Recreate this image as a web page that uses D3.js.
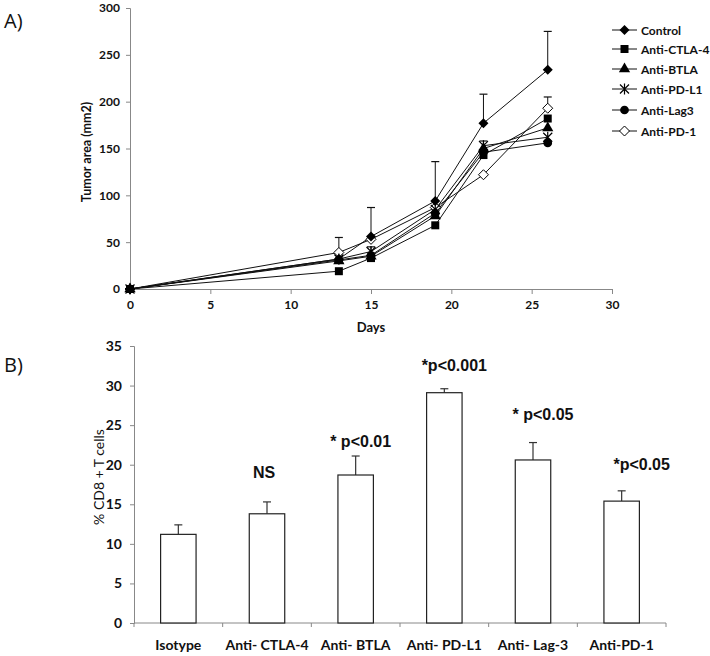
<!DOCTYPE html>
<html><head><meta charset="utf-8">
<script src="https://cdn.jsdelivr.net/npm/d3@7"></script>
<style>body{margin:0;background:#fff}svg{display:block}</style>
</head><body>
<svg id="c" width="710" height="656"></svg>
<script>
// ---- Panel A data ----
const days = [0, 13, 15, 19, 22, 26];
const seriesNames = ["Control", "Anti-CTLA-4", "Anti-BTLA", "Anti-PD-L1", "Anti-Lag3", "Anti-PD-1"];
const markerTypes = ["diamond", "square", "triangle", "star", "circle", "openDiamond"];
const control = [0, 32, 56, 94, 177, 234];
const antiCTLA4 = [0, 19, 33, 68, 143, 182];
const antiBTLA = [0, 30, 35, 78, 150, 172];
const antiPDL1 = [0, 32, 40, 85, 153, 162];
const antiLag3 = [0, 31, 36, 81, 146, 156];
const antiPD1 = [0, 39, 53, 87, 122, 193];
const errControl = [0, 23, 31, 42, 31, 41];
const errCTLA4 = [0, 0, 0, 0, 0, 0];
const errBTLA = [0, 0, 0, 0, 0, 0];
const errPDL1 = [0, 0, 5, 0, 5, 0];
const errLag3 = [0, 0, 0, 0, 0, 0];
const errPD1 = [0, 0, 0, 0, 0, 12];
const xTicksA = [0, 5, 10, 15, 20, 25, 30];
const yTicksA = [0, 50, 100, 150, 200, 250, 300];

// ---- Panel B data ----
const categories = ["Isotype", "Anti- CTLA-4", "Anti- BTLA", "Anti- PD-L1", "Anti- Lag-3", "Anti-PD-1"];
const cd8Values = [11.2, 13.8, 18.7, 29.1, 20.6, 15.4];
const cd8Errors = [1.2, 1.5, 2.4, 0.5, 2.2, 1.3];
const annotations = ["", "NS", "* p<0.01", "*p<0.001", "* p<0.05", "*p<0.05"];
const yTicksB = [0, 5, 10, 15, 20, 25, 30, 35];

const allSeries = [control, antiCTLA4, antiBTLA, antiPDL1, antiLag3, antiPD1];
const allErr = [errControl, errCTLA4, errBTLA, errPDL1, errLag3, errPD1];

const svg = d3.select("#c");
const FONT = "Lato, 'Open Sans', sans-serif";
const AX = "#888";

// ===== Panel A =====
const xA = d3.scaleLinear().domain([0, 30]).range([130, 612]);
const yA = d3.scaleLinear().domain([0, 300]).range([289, 8]);

const gA = svg.append("g");
const xAxisA = gA.append("g").attr("transform", `translate(0,${yA(0)})`)
  .call(d3.axisBottom(xA).tickValues(xTicksA).tickSize(5).tickPadding(6).tickFormat(d3.format("d")));
const yAxisA = gA.append("g").attr("transform", `translate(${xA(0)},0)`)
  .call(d3.axisLeft(yA).tickValues(yTicksA).tickSize(4).tickPadding(6).tickFormat(d3.format("d")));
[xAxisA, yAxisA].forEach(a => {
  a.selectAll("path,line").attr("stroke", AX);
  a.selectAll("text").attr("font-family", FONT).attr("font-weight", "bold").attr("font-size", 12).attr("fill", "#111");
});

allSeries.forEach((s, i) => {
  s.forEach((v, j) => {
    const e = allErr[i][j];
    if (e > 0) {
      const x = xA(days[j]);
      gA.append("line").attr("x1", x).attr("x2", x).attr("y1", yA(v)).attr("y2", yA(v + e)).attr("stroke", "#111").attr("stroke-width", 1);
      gA.append("line").attr("x1", x - 4).attr("x2", x + 4).attr("y1", yA(v + e)).attr("y2", yA(v + e)).attr("stroke", "#111").attr("stroke-width", 1.2);
    }
  });
});

const line = d3.line().x((d, j) => xA(days[j])).y(d => yA(d));
allSeries.forEach(s => {
  gA.append("path").attr("d", line(s)).attr("fill", "none").attr("stroke", "#111").attr("stroke-width", 1);
});

function drawMarker(g, type, x, y) {
  if (type === "diamond") {
    g.append("path").attr("d", "M0,-5L5,0L0,5L-5,0Z").attr("transform", `translate(${x},${y})`).attr("fill", "#000");
  } else if (type === "openDiamond") {
    g.append("path").attr("d", "M0,-5L5,0L0,5L-5,0Z").attr("transform", `translate(${x},${y})`).attr("fill", "#fff").attr("stroke", "#000").attr("stroke-width", 1);
  } else if (type === "square") {
    g.append("path").attr("d", d3.symbol(d3.symbolSquare, 64)()).attr("transform", `translate(${x},${y})`).attr("fill", "#000");
  } else if (type === "triangle") {
    g.append("path").attr("d", d3.symbol(d3.symbolTriangle, 55)()).attr("transform", `translate(${x},${y})`).attr("fill", "#000");
  } else if (type === "circle") {
    g.append("path").attr("d", d3.symbol(d3.symbolCircle, 60)()).attr("transform", `translate(${x},${y})`).attr("fill", "#000");
  } else if (type === "star") {
    const r = 4.5;
    const p = `M${-r},${-r}L${r},${r}M${-r},${r}L${r},${-r}M0,${-r - 1}L0,${r + 1}`;
    g.append("path").attr("d", p).attr("transform", `translate(${x},${y})`).attr("fill", "none").attr("stroke", "#000").attr("stroke-width", 1.2);
  }
}

// draw order: open diamonds first, so filled markers sit on top
const drawOrder = [5, 0, 2, 3, 4, 1];
drawOrder.forEach(i => {
  allSeries[i].forEach((v, j) => drawMarker(gA, markerTypes[i], xA(days[j]), yA(v)));
});

const legY = [30, 49, 69, 89, 110, 131];
seriesNames.forEach((n, i) => {
  const y = legY[i];
  gA.append("line").attr("x1", 612).attr("x2", 637).attr("y1", y).attr("y2", y).attr("stroke", "#111").attr("stroke-width", 1);
  drawMarker(gA, markerTypes[i], 624.5, y);
  gA.append("text").attr("x", 641).attr("y", y + 4.5).text(n)
    .attr("font-family", FONT).attr("font-weight", "bold").attr("font-size", 12).attr("fill", "#111");
});

gA.append("text").attr("x", 371).attr("y", 332).attr("text-anchor", "middle").text("Days")
  .attr("font-family", FONT).attr("font-weight", "bold").attr("font-size", 13).attr("fill", "#111");
gA.append("text").attr("transform", "translate(91,152) rotate(-90)").attr("text-anchor", "middle").text("Tumor area (mm2)")
  .attr("font-family", FONT).attr("font-weight", "bold").attr("font-size", 12.5).attr("fill", "#111");
svg.append("text").attr("x", 4).attr("y", 28).text("A)").attr("font-family", "'Open Sans', sans-serif").attr("font-size", 20).attr("fill", "#111");

// ===== Panel B =====
const xB = d3.scaleBand().domain(categories).range([134, 666]).paddingInner(0.6).paddingOuter(0.3);
const yB = d3.scaleLinear().domain([0, 35]).range([623, 346]);
const gB = svg.append("g");

const yAxisB = gB.append("g").attr("transform", `translate(134,0)`)
  .call(d3.axisLeft(yB).tickValues(yTicksB).tickSize(4).tickPadding(8).tickFormat(d3.format("d")));
yAxisB.selectAll("path,line").attr("stroke", AX);
yAxisB.selectAll("text").attr("font-family", FONT).attr("font-weight", "bold").attr("font-size", 14).attr("fill", "#111");

const step = xB.step();
gB.append("line").attr("x1", 134).attr("x2", 666).attr("y1", yB(0)).attr("y2", yB(0)).attr("stroke", AX);
d3.range(categories.length + 1).forEach(k => {
  const x = 134 + k * step;
  gB.append("line").attr("x1", x).attr("x2", x).attr("y1", yB(0)).attr("y2", yB(0) + 4).attr("stroke", AX);
});
categories.forEach(c => {
  gB.append("text").attr("x", xB(c) + xB.bandwidth() / 2).attr("y", 650).attr("text-anchor", "middle").text(c)
    .attr("font-family", FONT).attr("font-weight", "bold").attr("font-size", 14).attr("fill", "#111");
});

categories.forEach((c, i) => {
  const cx = xB(c) + xB.bandwidth() / 2;
  const top = cd8Values[i] + cd8Errors[i];
  gB.append("line").attr("x1", cx).attr("x2", cx).attr("y1", yB(cd8Values[i])).attr("y2", yB(top)).attr("stroke", "#333").attr("stroke-width", 1.2);
  gB.append("line").attr("x1", cx - 4).attr("x2", cx + 4).attr("y1", yB(top)).attr("y2", yB(top)).attr("stroke", "#333").attr("stroke-width", 1.2);
});
gB.selectAll("rect.bar").data(cd8Values).enter().append("rect")
  .attr("x", (d, i) => xB(categories[i])).attr("y", d => yB(d))
  .attr("width", xB.bandwidth()).attr("height", d => yB(0) - yB(d))
  .attr("fill", "#fff").attr("stroke", "#222").attr("stroke-width", 1.2);

const annY = [0, 478, 447, 371, 420, 470];
const annX = [0, -3, 5, 10, 10, 20];
categories.forEach((c, i) => {
  if (!annotations[i]) return;
  gB.append("text").attr("x", xB(c) + xB.bandwidth() / 2 + annX[i]).attr("y", annY[i]).attr("text-anchor", "middle").text(annotations[i])
    .attr("font-family", "'Liberation Sans', Arial, sans-serif").attr("font-weight", "bold").attr("font-size", 16).attr("fill", "#111");
});

gB.append("text").attr("transform", "translate(104,477) rotate(-90)").attr("text-anchor", "middle").text("% CD8 + T cells")
  .attr("font-family", FONT).attr("font-size", 14).attr("fill", "#111");
svg.append("text").attr("x", 4).attr("y", 372).text("B)").attr("font-family", "'Open Sans', sans-serif").attr("font-size", 20).attr("fill", "#111");
</script>
</body></html>
